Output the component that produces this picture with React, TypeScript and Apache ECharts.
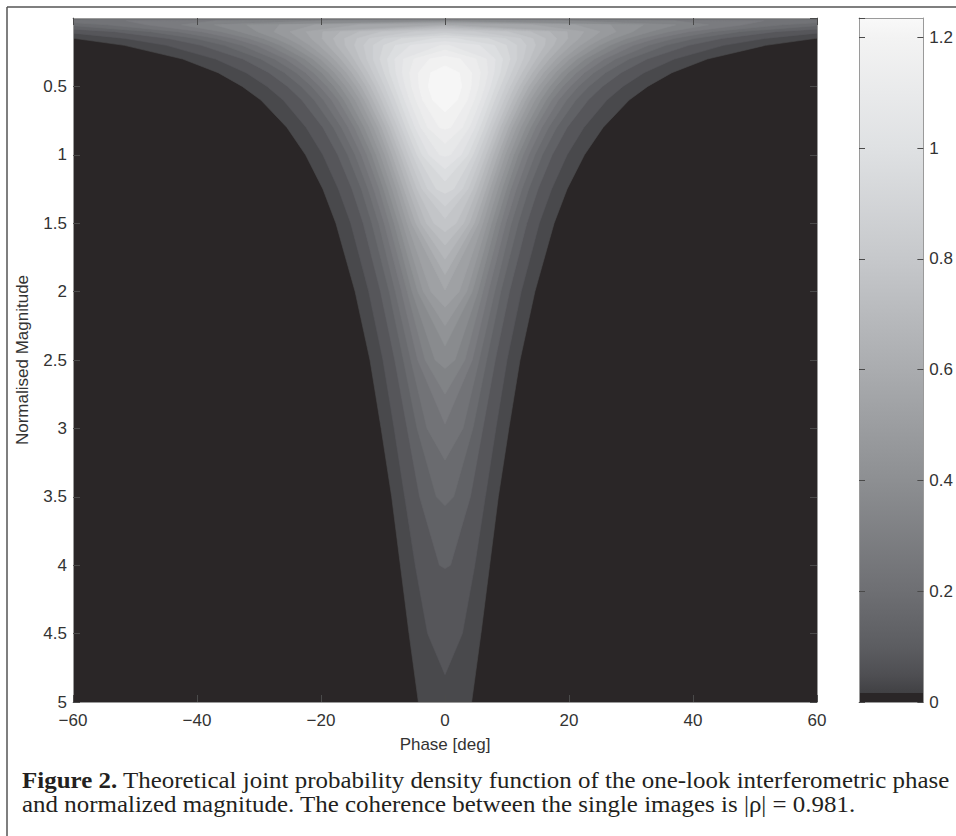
import React, { useEffect, useRef } from "react";
import * as echarts from "echarts";

// Normalised magnitude of each sampled row of the contour table
const magnitudeRows = [0.01, 0.02, 0.05, 0.1, 0.15, 0.2, 0.3, 0.4, 0.5, 0.6, 0.8, 1.0, 1.25, 1.5, 2, 2.5, 3, 3.5, 4, 4.5, 5];

// Filled-contour levels of the joint probability density
const densityLevels = [
  0.02, 0.05, 0.1, 0.15, 0.2, 0.25, 0.3, 0.35, 0.4, 0.45, 0.5, 0.55, 0.6,
  0.65, 0.7, 0.75, 0.8, 0.85, 0.9, 0.95, 1.0, 1.05, 1.1, 1.15, 1.2,
];

// Phase half-width [deg] of each level's contour on each magnitude row (null: row stays below the level)
const contourHalfWidth: (number | null)[][] = [
  [90, 90, 90, 73.2, 59.6, 51.7, 42.3, 36.6, 32.7, 29.7, 25.5, 22.5, 19.7, 17.6, 14.5, 12.1, 10.3, 8.6, 7.2, 5.8, 4.3],
  [90, 90, 87.1, 62.3, 51.5, 44.9, 37.0, 32.1, 28.7, 26.1, 22.4, 19.7, 17.2, 15.2, 12.3, 10.0, 8.2, 6.5, 4.8, 2.8, null],
  [90, 90, 71.6, 53.3, 44.6, 39.3, 32.6, 28.4, 25.4, 23.1, 19.7, 17.3, 15.0, 13.2, 10.4, 8.1, 6.1, 4.1, 0.9, null, null],
  [88.6, 82.3, 61.9, 47.5, 40.2, 35.6, 29.7, 25.9, 23.2, 21.1, 18.0, 15.7, 13.5, 11.8, 9.0, 6.7, 4.5, 1.4, null, null, null],
  [54.8, 65.8, 54.4, 43.1, 36.9, 32.8, 27.5, 24.0, 21.5, 19.6, 16.7, 14.5, 12.4, 10.7, 8.0, 5.5, 2.9, null, null, null, null],
  [null, 51.4, 48.1, 39.3, 34.0, 30.4, 25.7, 22.5, 20.2, 18.3, 15.6, 13.5, 11.5, 9.8, 7.0, 4.4, null, null, null, null, null],
  [null, 36.9, 42.5, 36.1, 31.6, 28.4, 24.1, 21.2, 19.0, 17.2, 14.6, 12.6, 10.6, 9.0, 6.1, 3.2, null, null, null, null, null],
  [null, 18.7, 37.2, 33.1, 29.3, 26.6, 22.6, 19.9, 17.9, 16.3, 13.8, 11.8, 9.9, 8.2, 5.3, 1.6, null, null, null, null, null],
  [null, null, 32.0, 30.3, 27.3, 24.9, 21.3, 18.8, 16.9, 15.4, 13.0, 11.1, 9.2, 7.5, 4.4, null, null, null, null, null, null],
  [null, null, 26.7, 27.6, 25.3, 23.3, 20.1, 17.8, 16.0, 14.5, 12.2, 10.4, 8.5, 6.8, 3.5, null, null, null, null, null, null],
  [null, null, 21.0, 25.0, 23.5, 21.8, 19.0, 16.8, 15.1, 13.7, 11.5, 9.7, 7.8, 6.1, 2.3, null, null, null, null, null, null],
  [null, null, 14.0, 22.4, 21.6, 20.3, 17.9, 15.9, 14.3, 13.0, 10.8, 9.1, 7.2, 5.4, null, null, null, null, null, null, null],
  [null, null, null, 19.7, 19.8, 18.9, 16.8, 15.0, 13.5, 12.3, 10.2, 8.5, 6.6, 4.7, null, null, null, null, null, null, null],
  [null, null, null, 16.9, 18.0, 17.5, 15.7, 14.1, 12.7, 11.6, 9.5, 7.8, 5.9, 3.9, null, null, null, null, null, null, null],
  [null, null, null, 13.8, 16.2, 16.1, 14.7, 13.3, 12.0, 10.9, 8.9, 7.2, 5.2, 3.0, null, null, null, null, null, null, null],
  [null, null, null, 10.2, 14.2, 14.6, 13.7, 12.4, 11.2, 10.2, 8.3, 6.6, 4.5, 1.8, null, null, null, null, null, null, null],
  [null, null, null, 4.7, 12.2, 13.1, 12.6, 11.6, 10.5, 9.5, 7.6, 5.9, 3.7, null, null, null, null, null, null, null, null],
  [null, null, null, null, 9.8, 11.6, 11.6, 10.7, 9.7, 8.8, 7.0, 5.2, 2.8, null, null, null, null, null, null, null, null],
  [null, null, null, null, 7.0, 9.9, 10.5, 9.8, 8.9, 8.0, 6.3, 4.5, 1.4, null, null, null, null, null, null, null, null],
  [null, null, null, null, 1.8, 8.0, 9.3, 8.9, 8.1, 7.3, 5.6, 3.7, null, null, null, null, null, null, null, null, null],
  [null, null, null, null, null, 5.6, 8.1, 7.9, 7.3, 6.5, 4.8, 2.6, null, null, null, null, null, null, null, null, null],
  [null, null, null, null, null, 0.7, 6.7, 6.9, 6.4, 5.7, 3.9, 0.9, null, null, null, null, null, null, null, null, null],
  [null, null, null, null, null, null, 5.0, 5.7, 5.4, 4.7, 2.8, null, null, null, null, null, null, null, null, null, null],
  [null, null, null, null, null, null, 2.5, 4.3, 4.2, 3.6, 0.9, null, null, null, null, null, null, null, null, null, null],
  [null, null, null, null, null, null, null, 2.3, 2.7, 2.0, null, null, null, null, null, null, null, null, null, null, null],
];

// Magnitude where a closed contour meets zero phase at its upper / lower end (null: it runs off the plot)
const contourTopTip: (number | null)[] = [
  null, null, null, null, null, 0.0101, 0.0145, 0.0181, 0.0235, 0.029, 0.0352, 0.0426, 0.051,
  0.0601, 0.0705, 0.0826, 0.096, 0.1112, 0.1285, 0.1485, 0.1718, 0.199, 0.2342, 0.28, 0.35,
];
const contourBottomTip: (number | null)[] = [
  null, 4.8, 4.025, 3.565, 3.232, 2.968, 2.75, 2.562, 2.397, 2.249, 2.114, 1.99, 1.876,
  1.765, 1.661, 1.563, 1.465, 1.376, 1.282, 1.193, 1.103, 1.012, 0.917, 0.813, 0.687,
];

// Peak of the density, top of the colour bar
const densityMax = 1.235;

// Grey colour ramp of the printed colour map
const rampStops = [0, 0.017, 0.05, 0.1, 0.2, 0.4, 0.6, 0.8, 1.0, 1.2, 1.235];
const rampColors = ["#2a2627", "#414144", "#4f4f53", "#5c5d61", "#6e6f73", "#8d8f92", "#aaacaf", "#c6c8cb", "#dfe1e3", "#f3f3f3", "#f9f9f9"];

const hexToRgb = (h: string) => [1, 3, 5].map((i) => parseInt(h.slice(i, i + 2), 16));

const rampColor = (v: number) => {
  if (v <= rampStops[0]) return rampColors[0];
  for (let i = 1; i < rampStops.length; i++) {
    if (v <= rampStops[i]) {
      const t = (v - rampStops[i - 1]) / (rampStops[i] - rampStops[i - 1]);
      const a = hexToRgb(rampColors[i - 1]);
      const b = hexToRgb(rampColors[i]);
      const c = a.map((x, j) => Math.round(x + (b[j] - x) * t));
      return `rgb(${c[0]},${c[1]},${c[2]})`;
    }
  }
  return rampColors[rampColors.length - 1];
};

// Each filled band takes the colour of the middle of its level interval
const bandColor = (k: number) => {
  const lo = densityLevels[k];
  const hi = k + 1 < densityLevels.length ? densityLevels[k + 1] : densityMax;
  return rampColor((lo + hi) / 2);
};

const sansFont = "'Liberation Sans', Arial, Helvetica, sans-serif";
const serifFont = "'Liberation Serif', 'Times New Roman', serif";
const minusSign = (v: number) => String(v).replace("-", "\u2212");

export default function App() {
  const ref = useRef<HTMLDivElement>(null);

  useEffect(() => {
    document.body.style.margin = "0";
    if (!ref.current) return;
    const chart = echarts.init(ref.current, undefined, { renderer: "svg" });

    const contourItem = (params: any, api: any) => {
      const k = params.dataIndex;
      const widths = contourHalfWidth[k];
      const right: number[][] = [];
      const left: number[][] = [];
      const top = contourTopTip[k];
      const bottom = contourBottomTip[k];
      if (top != null) right.push(api.coord([0, top]));
      magnitudeRows.forEach((m, j) => {
        const w = widths[j];
        if (w != null) {
          right.push(api.coord([w, m]));
          left.push(api.coord([-w, m]));
        }
      });
      if (bottom != null) right.push(api.coord([0, bottom]));
      left.reverse();
      return {
        type: "polygon",
        shape: { points: right.concat(left) },
        style: { fill: bandColor(k), stroke: bandColor(k), lineWidth: 0.6 },
      };
    };

    const colorbarItem = (params: any, api: any) => {
      const p0 = api.coord([0, densityMax]);
      const p1 = api.coord([1, 0]);
      const stops: { offset: number; color: string }[] = [];
      rampStops.forEach((v, i) => {
        const off = v / densityMax;
        if (i === 1) stops.push({ offset: off - 0.0005, color: rampColors[0] });
        stops.push({ offset: Math.min(1, off), color: rampColors[i] });
      });
      return {
        type: "rect",
        shape: { x: p0[0], y: p0[1], width: p1[0] - p0[0], height: p1[1] - p0[1] },
        style: { fill: new echarts.graphic.LinearGradient(0, 1, 0, 0, stops) },
      };
    };

    const tickStyle = { color: "#4a4a4a", width: 1 };
    const frameLine = { color: "#9a9a9a", width: 1 };
    const axisLine = { show: true, onZero: false, lineStyle: frameLine };
    const labelStyle = { fontFamily: sansFont, fontSize: 17, color: "#333333" };

    const option: any = {
      animation: false,
      backgroundColor: "#ffffff",
      grid: [
        { left: 73, top: 18, width: 744, height: 684, show: true, backgroundColor: "#2a2627", borderWidth: 0 },
        { left: 859, top: 18, width: 66, height: 684, show: false },
      ],
      xAxis: [
        {
          gridIndex: 0, type: "value", min: -60, max: 60, interval: 20, position: "bottom", z: 10,
          axisLine,
          axisTick: { show: true, inside: true, length: 7, lineStyle: tickStyle },
          axisLabel: { ...labelStyle, margin: 10, formatter: minusSign },
          splitLine: { show: false },
          name: "Phase [deg]", nameLocation: "middle", nameGap: 34,
          nameTextStyle: { fontFamily: sansFont, fontSize: 17, color: "#333333" },
        },
        {
          gridIndex: 0, type: "value", min: -60, max: 60, interval: 20, position: "top", z: 10,
          axisLine,
          axisTick: { show: true, inside: true, length: 7, lineStyle: tickStyle },
          axisLabel: { show: false }, splitLine: { show: false },
        },
        {
          gridIndex: 1, type: "value", min: 0, max: 1, position: "bottom", z: 10,
          axisLine,
          axisTick: { show: false }, axisLabel: { show: false }, splitLine: { show: false },
        },
        {
          gridIndex: 1, type: "value", min: 0, max: 1, position: "top", z: 10,
          axisLine,
          axisTick: { show: false }, axisLabel: { show: false }, splitLine: { show: false },
        },
      ],
      yAxis: [
        {
          gridIndex: 0, type: "value", inverse: true, min: 0, max: 5, interval: 0.5, position: "left", z: 10,
          axisLine,
          axisTick: { show: true, inside: true, length: 7, lineStyle: tickStyle },
          axisLabel: { ...labelStyle, margin: 6, showMinLabel: false },
          splitLine: { show: false },
          name: "Normalised Magnitude", nameLocation: "middle", nameGap: 42, nameRotate: 90,
          nameTextStyle: { fontFamily: sansFont, fontSize: 17, color: "#333333" },
        },
        {
          gridIndex: 0, type: "value", inverse: true, min: 0, max: 5, interval: 0.5, position: "right", z: 10,
          axisLine,
          axisTick: { show: true, inside: true, length: 7, lineStyle: tickStyle },
          axisLabel: { show: false }, splitLine: { show: false },
        },
        {
          gridIndex: 1, type: "value", min: 0, max: densityMax, interval: 0.2, position: "left", z: 10,
          axisLine,
          axisTick: { show: true, inside: true, length: 6, lineStyle: tickStyle },
          axisLabel: { show: false }, splitLine: { show: false },
        },
        {
          gridIndex: 1, type: "value", min: 0, max: densityMax, interval: 0.2, position: "right", z: 10,
          axisLine,
          axisTick: { show: true, inside: true, length: 6, lineStyle: tickStyle },
          axisLabel: { ...labelStyle, margin: 6, showMaxLabel: false },
          splitLine: { show: false },
        },
      ],
      series: [
        {
          type: "custom",
          name: "pdf contours",
          coordinateSystem: "cartesian2d",
          xAxisIndex: 0,
          yAxisIndex: 0,
          clip: true,
          renderItem: contourItem,
          data: densityLevels.map((level) => [0, 1, level]),
          encode: { x: 0, y: 1 },
          silent: true,
        },
        {
          type: "custom",
          name: "colour bar",
          coordinateSystem: "cartesian2d",
          xAxisIndex: 2,
          yAxisIndex: 2,
          renderItem: colorbarItem,
          data: [[0, densityMax]],
          encode: { x: 0, y: 1 },
          silent: true,
        },
      ],
      graphic: [
        { type: "line", shape: { x1: 7, y1: 7, x2: 956, y2: 7 }, style: { stroke: "#555555", lineWidth: 1.5 }, silent: true },
        { type: "line", shape: { x1: 7, y1: 7, x2: 7, y2: 836 }, style: { stroke: "#555555", lineWidth: 1.5 }, silent: true },
        {
          type: "text", x: 22, y: 780, scaleX: 1.085, silent: true,
          style: {
            text: "{b|Figure 2.} Theoretical joint probability density function of the one-look interferometric phase",
            rich: { b: { fontFamily: serifFont, fontSize: 23, fontWeight: "bold", fill: "#231f20" } },
            fontFamily: serifFont, fontSize: 23, fill: "#231f20", verticalAlign: "middle",
          },
        },
        {
          type: "text", x: 22, y: 804, scaleX: 1.085, silent: true,
          style: {
            text: "and normalized magnitude. The coherence between the single images is |\u03c1| = 0.981.",
            fontFamily: serifFont, fontSize: 23, fill: "#231f20", verticalAlign: "middle",
          },
        },
      ],
    };

    chart.setOption(option);
    return () => chart.dispose();
  }, []);

  return <div ref={ref} style={{ width: 956, height: 836 }} />;
}
